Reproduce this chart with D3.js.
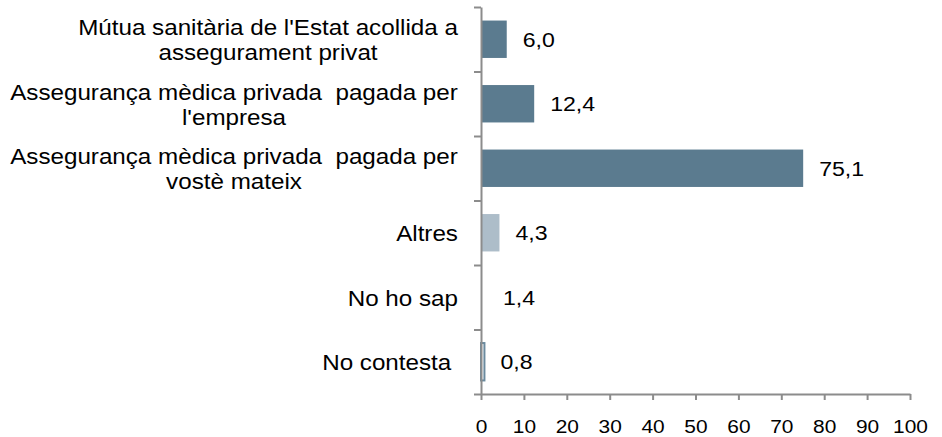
<!DOCTYPE html>
<html>
<head>
<meta charset="utf-8">
<script src="https://cdn.jsdelivr.net/npm/d3@7"></script>
<style>
  body { margin: 0; background: #fff; }
  text { font-family: "Liberation Sans", Arial, sans-serif; fill: #000; white-space: pre; }
  .axis path, .axis line { stroke: #8c8c8c; stroke-width: 2px; }
</style>
</head>
<body>
<div id="chart"></div>
<script>
// categories (one entry per line of the label) and values, top to bottom
const categories = [
  ["Mútua sanitària de l'Estat acollida a", "assegurament privat"],
  ["Assegurança mèdica privada  pagada per", "l'empresa"],
  ["Assegurança mèdica privada  pagada per", "vostè mateix"],
  ["Altres"],
  ["No ho sap"],
  ["No contesta "]
];
const values = [6.0, 12.4, 75.1, 4.3, 1.4, 0.8];
const xTicks = [0, 10, 20, 30, 40, 50, 60, 70, 80, 90, 100];

// bar colours
const barFill = ["#5b7b8f", "#5b7b8f", "#5b7b8f", "#adbdc9", "#ffffff", "#ffffff"];
const barStroke = ["none", "none", "none", "none", "none", "#6a8a9e"];

const width = 942, height = 437;
const plotLeft = 481, plotRight = 910, plotTop = 7, plotBottom = 394;
// the original text is a little wider than Arial
const stretch = 1.1;

const svg = d3.select("#chart")
  .append("svg")
    .attr("width", width)
    .attr("height", height);

const x = d3.scaleLinear()
  .domain([0, 100])
  .range([plotLeft, plotRight]);

const y = d3.scaleBand()
  .domain(d3.range(values.length))
  .range([plotTop, plotBottom])
  .paddingInner(0.42)
  .paddingOuter(0.21);

// edges of the category bands, for the y axis ticks
const yEdge = d3.scaleLinear()
  .domain([0, values.length])
  .range([plotTop, plotBottom]);

function widen(cx) {
  return `translate(${cx},0) scale(${stretch},1) translate(${-cx},0)`;
}

// bars
svg.selectAll(".bar")
  .data(values)
  .enter().append("rect")
    .attr("class", "bar")
    .attr("x", x(0))
    .attr("y", (d, i) => y(i))
    .attr("width", d => x(d) - x(0))
    .attr("height", y.bandwidth())
    .attr("fill", (d, i) => barFill[i])
    .attr("stroke", (d, i) => barStroke[i])
    .attr("stroke-width", 2);

// value labels
svg.selectAll(".value")
  .data(values)
  .enter().append("text")
    .attr("class", "value")
    .attr("x", d => x(d) + 16)
    .attr("y", (d, i) => y(i) + y.bandwidth() / 2)
    .attr("dy", "0.35em")
    .attr("transform", d => widen(x(d) + 16))
    .style("font-size", "21px")
    .text(d => d.toFixed(1).replace(".", ","));

// x axis
svg.append("g")
  .attr("class", "x axis")
  .attr("transform", `translate(0, ${plotBottom})`)
  .call(d3.axisBottom(x).tickValues(xTicks).tickSize(6).tickSizeOuter(0).tickPadding(20))
  .call(g => g.selectAll("text")
    .attr("fill", "#000")
    .attr("transform", widen(0))
    .style("font-size", "19px")
    .style("font-family", "'Liberation Sans', Arial, sans-serif"));

// y axis (ticks on the band edges, no labels)
svg.append("g")
  .attr("class", "y axis")
  .attr("transform", `translate(${plotLeft}, 0)`)
  .call(d3.axisLeft(yEdge).tickValues(d3.range(values.length + 1)).tickSize(7).tickSizeOuter(0).tickFormat(""));

// category labels, lines centred on each other, block right aligned
const labelRight = 458, lineHeight = 25;
const labels = svg.selectAll(".cat")
  .data(categories)
  .enter().append("text")
    .attr("class", "cat")
    .style("font-size", "22px")
    .attr("text-anchor", "middle");

labels.each(function (lines, i) {
  const t = d3.select(this);
  const cy = y(i) + y.bandwidth() / 2 + 1;
  lines.forEach((line, j) => {
    t.append("tspan")
      .attr("y", cy + (j - (lines.length - 1) / 2) * lineHeight)
      .attr("dy", "0.35em")
      .text(line);
  });
  const w = d3.max(t.selectAll("tspan").nodes(), n => n.getComputedTextLength()) * stretch;
  const cx = labelRight - w / 2;
  t.selectAll("tspan").attr("x", cx);
  t.attr("transform", widen(cx));
});
</script>
</body>
</html>
